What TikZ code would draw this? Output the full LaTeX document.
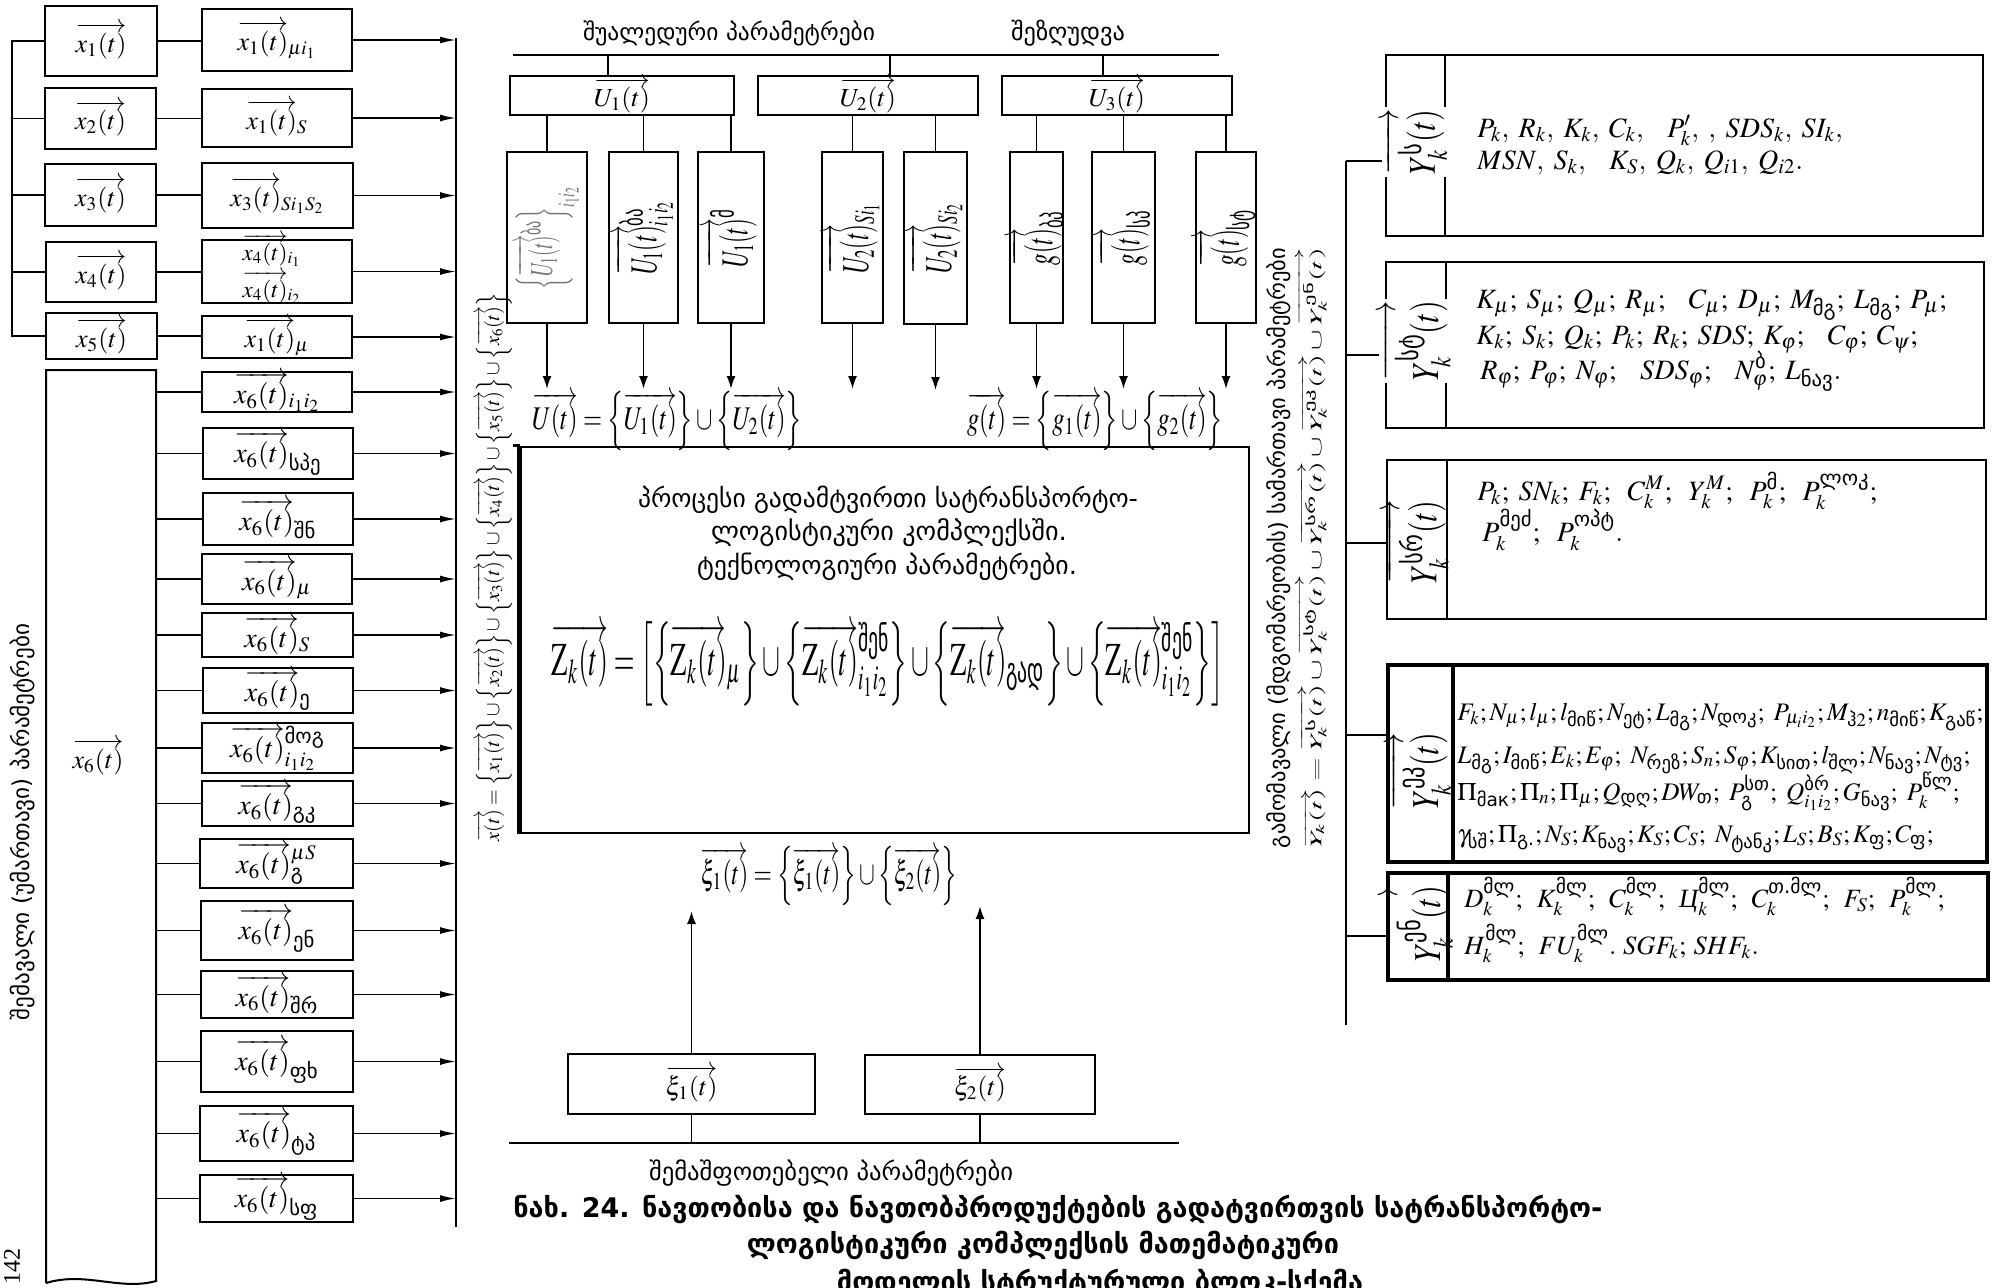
\documentclass[tikz,border=0pt]{standalone}
\usepackage{amsmath}
\usepackage{mathptmx}
\usepackage{graphicx}
\usepackage{fontspec}
\setmainfont{Liberation Serif}
\newfontfamily\geo{DejaVu Sans}
\usetikzlibrary{arrows.meta,calc}
\newcommand\geoT[1]{\text{\geo #1}}
\newcommand\va[1]{\overrightarrow{#1}}
\newcommand\fsz[1]{\fontsize{#1pt}{#1pt}\selectfont}
\newcommand\rlfont{\fsz{14}\thinmuskip=6mu\relax}
\newcommand\rvfont{\fsz{13.2}\thinmuskip=5mu\relax}
\newcommand\mybox[7][]{\node[box,#1,minimum width={(#5-#3)*0.5pt},minimum height={(#6-#4)*0.5pt}] (#2) at ({(#3+#5)/2},{(#4+#6)/2}) {#7};}
\newcommand\sq[1]{\scalebox{0.6}[1]{#1}}
\newcommand\sqy[1]{\scalebox{0.8}[1]{#1}}
\begin{document}
\begin{tikzpicture}[x=0.5pt,y=-0.5pt,
 box/.style={draw,line width=1pt,inner sep=0pt},
 con/.style={line width=0.9pt},
 arr/.style={line width=0.8pt,-{Latex[length=8pt,width=3.5pt]}},
 arrv/.style={line width=0.9pt,-{Latex[length=6.5pt,width=4.5pt]}},
 sl/.style={font=\fsz{13}},
 bl/.style={font=\fsz{14}},
 rl/.style={anchor=base west,inner sep=0pt,font=\rlfont},
 rv/.style={anchor=base west,inner sep=0pt,font=\rvfont},
 rs/.style={anchor=base west,inner sep=0pt,font=\fsz{12.6}},
 vl/.style={rotate=90,inner sep=0pt,font=\fsz{19}},
 yl/.style={rotate=90,inner sep=1pt,font=\fsz{19}},
]
\useasboundingbox (0,0) rectangle (2000,1287);

% ---------- left column ----------
\mybox[sl]{A1}{45}{6}{157}{76}{$\va{x_1(t)}$}
\mybox[sl]{A2}{45}{88}{156}{149}{$\va{x_2(t)}$}
\mybox[sl]{A3}{45}{164}{156}{226}{$\va{x_3(t)}$}
\mybox[sl]{A4}{46}{242}{156}{302}{$\va{x_4(t)}$}
\mybox[sl]{A5}{46}{313}{157}{359}{$\va{x_5(t)}$}
\node[inner sep=0pt,minimum width=55pt,minimum height=456pt] (A6) at (101,826) {};
\draw[line width=1pt] (46,1283) -- (46,370) -- (156,370) -- (156,1281) .. controls (120,1291) and (85,1271) .. (46,1283);
\node[sl] (A6l) at (98,757) {$\va{x_6(t)}$};

\mybox[sl]{B1}{202}{9}{352}{71}{$\va{x_1(t)}_{\mu i_1}$}
\mybox[sl]{B2}{202}{89}{352}{147}{$\va{x_1(t)}_{S}$}
\mybox[sl]{B3}{202}{163}{353}{228}{$\va{x_3(t)}_{Si_1S_2}$}
\mybox{B4}{202}{240}{352}{303}{}
\node[anchor=base,inner sep=0pt,font=\fsz{11.5}] (B4a) at (272,260) {$\va{x_4(t)}_{i_1}$};
\node[anchor=base,inner sep=0pt,font=\fsz{11.5}] (B4b) at (272,297) {$\va{x_4(t)}_{i_2}$};
\mybox[sl]{B5}{202}{316}{352}{358}{$\va{x_1(t)}_{\mu}$}
\mybox[bl]{B6}{202}{372}{352}{412}{$\va{x_6(t)}_{i_1i_2}$}
\mybox[bl]{B7}{203}{428}{353}{479}{$\va{x_6(t)}_{\geoT{სპე}}$}
\mybox[bl]{B8}{203}{493}{353}{545}{$\va{x_6(t)}_{\geoT{შნ}}$}
\mybox[bl]{B9}{202}{554}{352}{604}{$\va{x_6(t)}_{\mu}$}
\mybox[bl]{B10}{202}{613}{353}{657}{$\va{x_6(t)}_{S}$}
\mybox[bl]{B11}{203}{668}{353}{713}{$\va{x_6(t)}_{\geoT{ე}}$}
\mybox[bl]{B12}{202}{723}{353}{773}{$\va{x_6(t)}^{\geoT{მოგ}}_{i_1i_2}$}
\mybox[bl]{B13}{202}{781}{353}{826}{$\va{x_6(t)}_{\geoT{გკ}}$}
\mybox[bl]{B14}{200}{839}{353}{888}{$\va{x_6(t)}^{\mu S}_{\geoT{გ}}$}
\mybox[bl]{B15}{201}{901}{353}{960}{$\va{x_6(t)}_{\geoT{ენ}}$}
\mybox[bl]{B16}{201}{971}{353}{1018}{$\va{x_6(t)}_{\geoT{შრ}}$}
\mybox[bl]{B17}{201}{1031}{353}{1092}{$\va{x_6(t)}_{\geoT{ფხ}}$}
\mybox[bl]{B18}{200}{1106}{353}{1161}{$\va{x_6(t)}_{\geoT{ტპ}}$}
\mybox[bl]{B19}{200}{1175}{353}{1222}{$\va{x_6(t)}_{\geoT{სფ}}$}

\coordinate (lb) at (12,0);
\draw[con] (A1.west) -- (A1.west -| lb) -- (A5.west -| lb) -- (A5.west);
\foreach \i in {2,3,4} \draw[con] (A\i.west) -- (A\i.west -| lb);
\foreach \i in {1,...,5} \draw[con] (A\i.east) -- (A\i.east -| B\i.west);
\foreach \i in {6,...,19} \draw[con] (B\i.west -| A6.east) -- (B\i.west);

\coordinate (cT) at (456,38);
\coordinate (cB) at (456,1227);
\draw[line width=0.7pt] (cT) -- (cB);
\foreach \i in {1,...,19} \draw[arr] (B\i.east) -- (B\i.east -| cT);

\node[rotate=90,inner sep=0pt] (lv) at (23,822) {\resizebox{198pt}{!}{\geo შემავალი (უმართავი) პარამეტრები}};
\node[rotate=90,inner sep=0pt,font=\fsz{12}] (pg) at (12,1266) {142};

% x union
\node[rotate=90,inner sep=0pt] (xeq) at (494,567) {\resizebox{274pt}{!}{$\va{x(t)} = \left\{\va{x_1(t)}\right\}\cup\left\{\va{x_2(t)}\right\}\cup\left\{\va{x_3(t)}\right\}\cup\left\{\va{x_4(t)}\right\}\cup\left\{\va{x_5(t)}\right\}\cup\left\{\va{x_6(t)}\right\}$}};

% ---------- top ----------
\node[inner sep=0pt] (hd1) at (729,33) {\resizebox{146pt}{!}{\geo შუალედური პარამეტრები}};
\node[inner sep=0pt] (hd2) at (1068,33) {\resizebox{57pt}{!}{\geo შეზღუდვა}};
\coordinate (tl1) at (513,55);
\coordinate (tl2) at (1219,55);
\draw[con] (tl1) -- (tl2);
\mybox[sl]{U1}{510}{76}{734}{115}{$\va{U_1(t)}$}
\mybox[sl]{U2}{758}{76}{978}{115}{$\va{U_2(t)}$}
\mybox[sl]{U3}{1002}{76}{1232}{115}{$\va{U_3(t)}$}
\coordinate (s1) at (608,55);
\coordinate (s2) at (890,55);
\coordinate (s3) at (1103,55);
\draw[con] (s1) -- (s1 |- U1.north);
\draw[con] (s2) -- (s2 |- U2.north);
\draw[con] (s3) -- (s3 |- U3.north);

\mybox{V1}{507}{152}{587}{323}{}
\mybox{V2}{609}{152}{678}{323}{}
\mybox{V3}{698}{152}{764}{323}{}
\mybox{V4}{822}{152}{883}{323}{}
\mybox{V5}{904}{152}{967}{324}{}
\mybox{V6}{1010}{152}{1063}{323}{}
\mybox{V7}{1092}{152}{1155}{323}{}
\mybox{V8}{1196}{152}{1256}{323}{}
\foreach \i in {1,2,3} \draw[con] (V\i.north) -- (V\i.north |- U1.south);
\foreach \i in {4,5} \draw[con] (V\i.north) -- (V\i.north |- U2.south);
\foreach \i in {6,7,8} \draw[con] (V\i.north) -- (V\i.north |- U3.south);
\foreach \i in {1,...,8} \draw[arrv] (V\i.south) -- ++(0,65);

\coordinate (vy) at (0,238);
\node[vl,text=black!55,font=\fsz{16}] (V1l) at (V1.center |- vy) {\sq{$\left\{\va{U_1(t)}^{\geoT{ბა}}\right\}_{i_1i_2}$}};
\node[vl] (V2l) at (V2.center |- vy) {\sq{$\va{U_1(t)}^{\geoT{ბა}}_{i_1i_2}$}};
\node[vl] (V3l) at (V3.center |- vy) {\sq{$\va{U_1(t)}^{\geoT{მ}}$}};
\node[vl] (V4l) at (V4.center |- vy) {\sq{$\va{U_2(t)}_{Si_1}$}};
\node[vl] (V5l) at (V5.center |- vy) {\sq{$\va{U_2(t)}_{Si_2}$}};
\node[vl] (V6l) at (V6.center |- vy) {\sq{$\va{g(t)}_{\geoT{ბპ}}$}};
\node[vl] (V7l) at (V7.center |- vy) {\sq{$\va{g(t)}_{\geoT{სპ}}$}};
\node[vl] (V8l) at (V8.center |- vy) {\sq{$\va{g(t)}_{\geoT{სტ}}$}};

\node[inner sep=0pt] (Ueq) at (667,421) {\resizebox{135pt}{19pt}{$\va{U(t)} = \left\{\va{U_1(t)}\right\}\cup\left\{\va{U_2(t)}\right\}$}};
\node[inner sep=0pt] (geq) at (1095,421) {\resizebox{128pt}{19pt}{$\va{g(t)} = \left\{\va{g_1(t)}\right\}\cup\left\{\va{g_2(t)}\right\}$}};

% ---------- middle box ----------
\mybox[line width=1.3pt]{M}{521}{447}{1249}{833}{}
\draw[line width=2.6pt] (M.north west) -- (M.south west);
\draw[line width=1.3pt] (M.north west) -- ++(-7,0);
\node[inner sep=0pt] (m1) at (888,500) {\resizebox{250pt}{!}{\geo პროცესი გადამტვირთი სატრანსპორტო-}};
\node[inner sep=0pt] (m2) at (889,533) {\resizebox{178pt}{!}{\geo ლოგისტიკური კომპლექსში.}};
\node[inner sep=0pt] (m3) at (887,567) {\resizebox{190pt}{!}{\geo ტექნოლოგიური პარამეტრები.}};
\node[inner sep=0pt] (zeq) at (888,664) {\resizebox{336pt}{27pt}{$\va{\mathrm{Z}_k(t)} = \left[\left\{\va{\mathrm{Z}_k(t)}_{\mu}\right\}\cup\left\{\va{\mathrm{Z}_k(t)}^{\geoT{შენ}}_{i_1i_2}\right\}\cup\left\{\va{\mathrm{Z}_k(t)}_{\geoT{გად}}\right\}\cup\left\{\va{\mathrm{Z}_k(t)}^{\geoT{შენ}}_{i_1i_2}\right\}\right]$}};

% ---------- bottom ----------
\node[inner sep=0pt] (xieq) at (829,876) {\resizebox{128pt}{19pt}{$\va{\xi_1(t)} = \left\{\va{\xi_1(t)}\right\}\cup\left\{\va{\xi_2(t)}\right\}$}};
\mybox[sl]{X1}{568}{1054}{815}{1114}{$\va{\xi_1(t)}$}
\mybox[sl]{X2}{865}{1055}{1095}{1114}{$\va{\xi_2(t)}$}
\coordinate (bl1) at (509,1143);
\coordinate (bl2) at (1179,1143);
\draw[con] (bl1) -- (bl2);
\draw[con] (X1.south) -- (X1.south |- bl1);
\draw[con] (X2.south) -- (X2.south |- bl1);
\draw[arrv] (X1.north) -- ++(0,-142);
\draw[arrv] (X2.north) -- ++(0,-148);
\node[inner sep=0pt] (bt) at (831,1173) {\resizebox{182pt}{!}{\geo შემაშფოთებელი პარამეტრები}};

\node[anchor=base,inner sep=0pt,font=\geo\bfseries\fontsize{13.5pt}{14pt}\selectfont] (cap1) at (1058,1217) {ნახ. 24. ნავთობისა და ნავთობპროდუქტების გადატვირთვის სატრანსპორტო-};
\node[anchor=base,inner sep=0pt,font=\geo\bfseries\fontsize{13.5pt}{14pt}\selectfont] (cap2) at (1043,1253) {ლოგისტიკური კომპლექსის მათემატიკური};
\node[anchor=base,inner sep=0pt,font=\geo\bfseries\fontsize{13.5pt}{14pt}\selectfont] (cap3) at (1100,1291) {მოდელის სტრუქტურული ბლოკ-სქემა};

% ---------- right ----------
\node[rotate=90,inner sep=0pt] (rv1) at (1279,548) {\resizebox{300pt}{!}{\geo გამომავალი (მდგომარეობის) სამართავი პარამეტრები}};
\node[rotate=90,inner sep=0pt] (rv2) at (1312,548) {\resizebox{300pt}{12pt}{$\va{Y_k(t)} = \va{Y_k^{\geoT{ს}}(t)}\cup\va{Y_k^{\geoT{სტ}}(t)}\cup\va{Y_k^{\geoT{სრ}}(t)}\cup\va{Y_k^{\geoT{ეკ}}(t)}\cup\va{Y_k^{\geoT{ენ}}(t)}$}};
\coordinate (rT) at (1346,161);
\coordinate (rB) at (1346,1025);
\draw[line width=1pt] (rT) -- (rB);

\mybox[line width=1.3pt]{R1}{1386}{55}{1983}{236}{}
\mybox[line width=1.3pt]{R2}{1386}{262}{1984}{428}{}
\mybox[line width=1.3pt]{R3}{1387}{460}{1986}{619}{}
\mybox[line width=1.8pt]{R4}{1388}{665}{1987}{862}{}
\mybox[line width=1.8pt]{R5}{1388}{873}{1988}{980}{}
\coordinate (d1) at (1445,0);
\coordinate (d2) at (1446,0);
\coordinate (d3) at (1447,0);
\coordinate (d4) at (1453,0);
\coordinate (d5) at (1448,0);
\foreach \i in {1,2,3} \draw[line width=1.3pt] (R\i.north -| d\i) -- (R\i.south -| d\i);
\foreach \i in {4,5} \draw[line width=1.8pt] (R\i.north -| d\i) -- (R\i.south -| d\i);
\coordinate (h1) at (1346,161);
\coordinate (h2) at (1346,355);
\coordinate (h3) at (1346,543);
\coordinate (h4) at (1346,735);
\coordinate (h5) at (1346,936);
\foreach \i in {1,...,5} \draw[con] (h\i) -- (h\i -| R\i.west);

\node[yl,fill=white,minimum height=33pt] (Y1) at (1415.5,142) {\sqy{$\va{Y_k^{\geoT{ს}}(t)}$}};
\node[yl,fill=white,minimum height=33pt] (Y2) at (1416,341) {\sqy{$\va{Y_k^{\geoT{სტ}}(t)}$}};
\node[yl] (Y3) at (1417,542) {\sqy{$\va{Y_k^{\geoT{სრ}}(t)}$}};
\node[yl] (Y4) at (1420,771) {\sqy{$\va{Y_k^{\geoT{ეკ}}(t)}$}};
\node[yl] (Y5) at (1418,924) {\sqy{$\va{Y_k^{\geoT{ენ}}(t)}$}};

\node[rl] (r11) at (1477,137) {$P_k, R_k, K_k, C_k,\ \ P'_k,, SDS_k, SI_k,$};
\node[rl] (r12) at (1477,169) {$MSN, S_k,\ \ K_S, Q_k, Q_{i1}, Q_{i2}.$};
\node[rl] (r21) at (1476,308) {$K_\mu; S_\mu; Q_\mu; R_\mu;\ \ C_\mu; D_\mu; M_{\geoT{მგ}}; L_{\geoT{მგ}}; P_\mu;$};
\node[rl] (r22) at (1476,344) {$K_k; S_k; Q_k; P_k; R_k; SDS; K_\varphi;\ \ C_\varphi; C_\psi;$};
\node[rl] (r23) at (1480,379) {$R_\varphi; P_\varphi; N_\varphi;\ \ SDS_\varphi;\ \ N_\varphi^{\geoT{ბ}}; L_{\geoT{ნავ}}.$};
\node[rl] (r31) at (1477,500) {$P_k; SN_k; F_k;\ C_k^M;\ Y_k^M;\ P_k^{\geoT{მ}};\ P_k^{\geoT{ლოკ}};$};
\node[rl] (r32) at (1482,541) {$P_k^{\geoT{მეძ}};\ P_k^{\geoT{ოპტ}}.$};
\begin{scope}
\clip (R4.south west) rectangle (R4.north east);
\node[rs] (r41) at (1457,720) {$F_k; N_\mu; l_\mu; l_{\geoT{მიწ}}; N_{\geoT{ეტ}}; L_{\geoT{მგ}}; N_{\geoT{დოკ}};\ P_{\mu_i i_2}; M_{\geoT{ჰ}2}; n_{\geoT{მიწ}}; K_{\geoT{გაწ}};$};
\node[rs] (r42) at (1457,763) {$L_{\geoT{მგ}}; I_{\geoT{მიწ}}; E_k; E_\varphi;\ N_{\geoT{რეზ}}; S_n; S_\varphi; K_{\geoT{სით}}; l_{\geoT{შლ}}; N_{\geoT{ნავ}}; N_{\geoT{ტვ}};$};
\node[rs] (r43) at (1457,800) {$\Pi_{\geoT{მак}}; \Pi_n; \Pi_\mu; Q_{\geoT{დღ}}; DW_{\geoT{თ}};\ P_{\geoT{გ}}^{\geoT{სთ}};\ Q_{i_1i_2}^{\geoT{ბრ}}; G_{\geoT{ნავ}};\ P_k^{\geoT{წლ}};$};
\node[rs] (r44) at (1457,842) {$\gamma_{\geoT{სშ}}; \Pi_{\geoT{გ.}}; N_S; K_{\geoT{ნავ}}; K_S; C_S;\ N_{\geoT{ტანკ}}; L_S; B_S; K_{\geoT{ფ}}; C_{\geoT{ფ}};$};
\end{scope}
\node[rv] (r51) at (1464,907) {$D_k^{\geoT{მლ}};\ K_k^{\geoT{მლ}};\ C_k^{\geoT{მლ}};\ \textit{Ц}_k^{\geoT{მლ}};\ C_k^{\geoT{თ.მლ}};\ F_S;\ P_k^{\geoT{მლ}};$};
\node[rv] (r52) at (1464,954) {$H_k^{\geoT{მლ}};\ FU_k^{\geoT{მლ}}.\ SGF_k; SHF_k.$};
\end{tikzpicture}
\end{document}
